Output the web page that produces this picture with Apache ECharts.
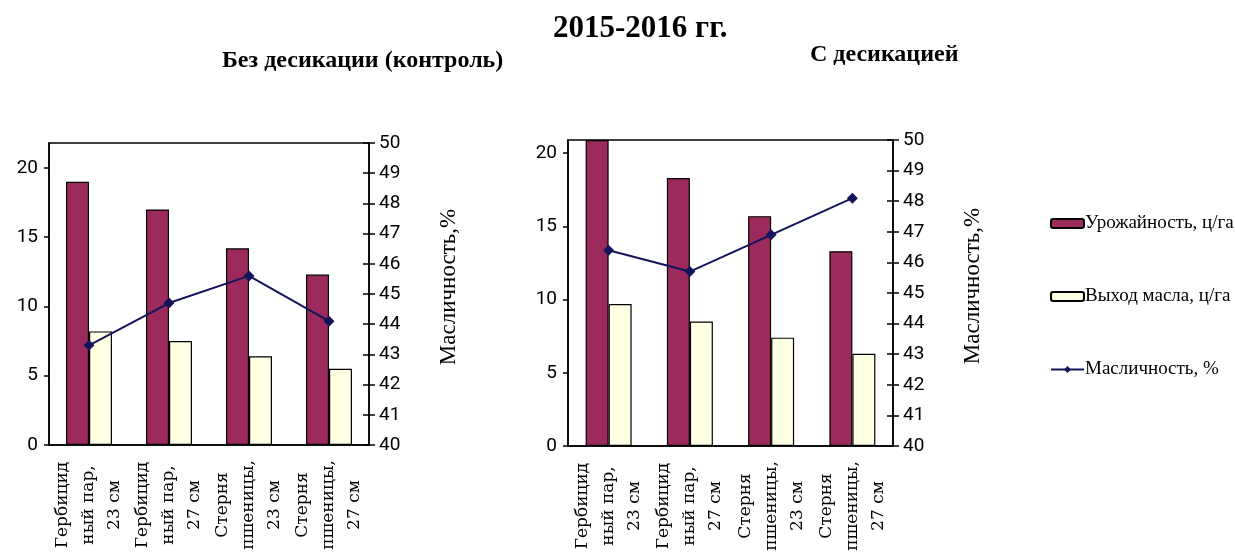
<!DOCTYPE html>
<html>
<head>
<meta charset="utf-8">
<script src="https://cdn.jsdelivr.net/npm/echarts@6/dist/echarts.min.js"></script>
<style>
  html, body { margin: 0; padding: 0; background: #fff; }
  #chart { width: 1235px; height: 560px; }
</style>
</head>
<body>
<div id="chart"></div>
<script>
const categories = ['Гербицид\nный пар,\n23 см', 'Гербицид\nный пар,\n27 см', 'Стерня\nпшеницы,\n23 см', 'Стерня\nпшеницы,\n27 см'];

// без десикации (контроль)
const yieldControl = [19.0, 17.0, 14.2, 12.3];
const oilControl = [8.2, 7.5, 6.4, 5.5];
const oilContentControl = [43.3, 44.7, 45.6, 44.1];

// с десикацией
const yieldDesic = [20.9, 18.3, 15.7, 13.3];
const oilDesic = [9.7, 8.5, 7.4, 6.3];
const oilContentDesic = [46.4, 45.7, 46.9, 48.1];

const seriesNames = ['Урожайность, ц/га', 'Выход масла, ц/га', 'Масличность, %'];

const chart = echarts.init(document.getElementById('chart'));

const serif = '"Liberation Serif", "Times New Roman", serif';

const catAxis = (gridIndex) => ({
  type: 'category',
  gridIndex: gridIndex,
  data: categories,
  axisLine: { lineStyle: { color: '#000', width: 1.5 } },
  axisTick: { length: 6, lineStyle: { color: '#000', width: 1.5 } },
  axisLabel: {
    rotate: 90,
    align: 'center',
    verticalAlign: 'middle',
    margin: 60,
    color: '#000',
    fontFamily: '"DejaVu Serif", serif',
    fontSize: 17,
    lineHeight: 26,
    interval: 0
  }
});

const leftAxis = (gridIndex, max) => ({
  type: 'value',
  gridIndex: gridIndex,
  position: 'left',
  min: 0,
  max: max,
  interval: 5,
  splitLine: { show: false },
  axisLine: { show: true, lineStyle: { color: '#000', width: 1.5 } },
  axisTick: { show: true, length: 5, lineStyle: { color: '#000', width: 1.5 } },
  axisLabel: { showMaxLabel: false, color: '#000', fontFamily: 'Roboto', fontSize: 19, margin: 11 }
});

const rightAxis = (gridIndex) => ({
  type: 'value',
  gridIndex: gridIndex,
  position: 'right',
  min: 40,
  max: 50,
  interval: 1,
  name: 'Масличность,%',
  nameLocation: 'middle',
  nameRotate: 90,
  nameGap: 68,
  nameTextStyle: { color: '#000', fontFamily: serif, fontSize: 23, padding: [0, 0, 0, 14] },
  splitLine: { show: false },
  axisLine: { show: true, lineStyle: { color: '#000', width: 1.5 } },
  axisTick: { show: true, length: 6, lineStyle: { color: '#000', width: 1.5 } },
  axisLabel: { color: '#000', fontFamily: 'Roboto', fontSize: 19, margin: 10 }
});

// only the inner half of the crossing ticks on the right axis
const innerTicks = (gridIndex) => ({
  type: 'value',
  gridIndex: gridIndex,
  position: 'right',
  min: 40,
  max: 50,
  interval: 1,
  splitLine: { show: false },
  axisLine: { show: false },
  axisTick: { show: true, inside: true, length: 6, lineStyle: { color: '#000', width: 1.5 } },
  axisLabel: { show: false }
});

const barStyle = (color) => ({ color: color, borderColor: '#000', borderWidth: 1.2 });

const makeSeries = (gi, yields, oil, oilContent) => [
  {
    name: seriesNames[0],
    type: 'bar',
    xAxisIndex: gi,
    yAxisIndex: gi * 2,
    data: yields,
    barWidth: 23,
    barGap: '0%',
    itemStyle: barStyle('#9C2A5C')
  },
  {
    name: seriesNames[1],
    type: 'bar',
    xAxisIndex: gi,
    yAxisIndex: gi * 2,
    data: oil,
    barWidth: 23,
    barGap: '0%',
    itemStyle: barStyle('#FFFFE4')
  },
  {
    name: seriesNames[2],
    type: 'line',
    xAxisIndex: gi,
    yAxisIndex: gi * 2 + 1,
    data: oilContent,
    symbol: 'diamond',
    symbolSize: 11,
    lineStyle: { color: '#14145C', width: 2 },
    itemStyle: { color: '#14145C' },
    z: 5
  }
];

chart.setOption({
  animation: false,
  backgroundColor: '#fff',
  title: [
    {
      text: '2015-2016 гг.',
      left: 548,
      top: 8,
      textStyle: { fontFamily: serif, fontWeight: 'bold', fontSize: 31, color: '#000' }
    },
    {
      text: 'Без десикации (контроль)',
      left: 217,
      top: 44,
      textStyle: { fontFamily: serif, fontWeight: 'bold', fontSize: 24, color: '#000' }
    },
    {
      text: 'С десикацией',
      left: 805,
      top: 38,
      textStyle: { fontFamily: serif, fontWeight: 'bold', fontSize: 24, color: '#000' }
    }
  ],
  legend: {
    orient: 'vertical',
    left: 1045,
    top: 209,
    itemGap: 54,
    itemWidth: 33,
    itemHeight: 9,
    data: seriesNames,
    textStyle: { fontFamily: serif, fontSize: 19, color: '#000', padding: [0, 0, 0, -4] }
  },
  grid: [
    { left: 49, top: 143, width: 320, height: 302, show: true, borderColor: '#000', borderWidth: 1.5 },
    { left: 568, top: 140, width: 325, height: 306, show: true, borderColor: '#000', borderWidth: 1.5 }
  ],
  xAxis: [catAxis(0), catAxis(1)],
  yAxis: [
    leftAxis(0, 21.8), rightAxis(0),
    leftAxis(1, 20.9), rightAxis(1),
    innerTicks(0), innerTicks(1)
  ],
  series: [
    ...makeSeries(0, yieldControl, oilControl, oilContentControl),
    ...makeSeries(1, yieldDesic, oilDesic, oilContentDesic)
  ]
});
</script>
</body>
</html>
